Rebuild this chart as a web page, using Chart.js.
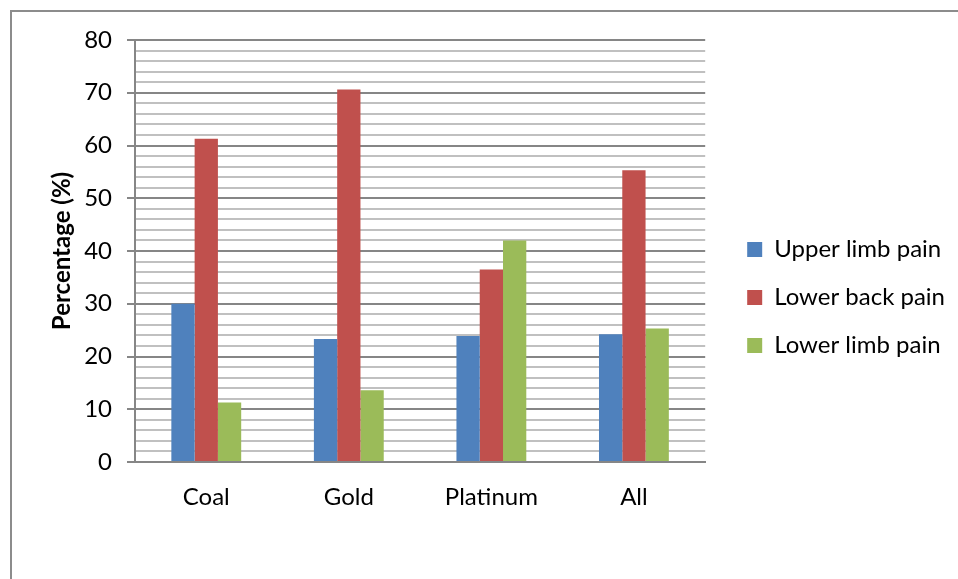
<!DOCTYPE html>
<html>
<head>
<meta charset="utf-8">
<script src="https://cdn.jsdelivr.net/npm/chart.js@4.4.1/dist/chart.umd.min.js"></script>
<style>
    html, body {
        margin: 0;
        padding: 0;
        background: #ffffff;
        overflow: hidden;
    }

    .frame {
        position: absolute;
        left: 10px;
        top: 10px;
        width: 1000px;
        height: 700px;
        border: 2px solid #8c8c8c;
        box-sizing: border-box;
    }

    .chart-box {
        position: absolute;
        left: 0;
        top: 0;
        width: 958px;
        height: 579px;
    }
</style>
</head>
<body>
<div class="frame"></div>
<div class="chart-box">
    <canvas id="painChart"></canvas>
</div>

<script>
// DATA

const categories = ["Coal", "Gold", "Platinum", "All"];

const upperLimbPain = [30.0, 23.3, 23.9, 24.2];
const lowerBackPain = [61.3, 70.6, 36.5, 55.3];
const lowerLimbPain = [11.3, 13.6, 42.0, 25.3];

const yTicks = [0, 10, 20, 30, 40, 50, 60, 70, 80];

// ================================
// BAR CHART
// ================================

const fontFamily = "Lato, 'Open Sans', sans-serif";

const isMajor = (value) => yTicks.includes(value);

// push the legend a bit away from the plot
const legendGap = {
    id: "legendGap",
    afterLayout(chart) {
        chart.legend.left += 18;
        chart.legend.right += 18;
    },
};

const ctx = document.getElementById("painChart");

new Chart(ctx, {
    type: "bar",

    data: {
        labels: categories,

        datasets: [
            {
                label: "Upper limb pain",
                data: upperLimbPain,
                backgroundColor: "#4f81bd",
            },
            {
                label: "Lower back pain",
                data: lowerBackPain,
                backgroundColor: "#c0504d",
            },
            {
                label: "Lower limb pain",
                data: lowerLimbPain,
                backgroundColor: "#9bbb59",
            },
        ],
    },

    plugins: [legendGap],

    options: {
        responsive: true,
        maintainAspectRatio: false,
        animation: false,

        datasets: {
            bar: {
                categoryPercentage: 0.49,
                barPercentage: 1,
            },
        },

        layout: {
            padding: {
                left: 0,
                top: 40,
                right: 21,
                bottom: 24,
            },
        },

        plugins: {
            legend: {
                position: "right",
                labels: {
                    boxWidth: 15,
                    boxHeight: 15,
                    padding: 24,
                    color: "#000000",
                    font: {
                        family: fontFamily,
                        size: 24,
                    },
                },
            },
            tooltip: {
                enabled: false,
            },
        },

        scales: {
            x: {
                grid: {
                    display: false,
                },
                border: {
                    color: "#868686",
                    width: 2,
                },
                ticks: {
                    padding: 13,
                    color: "#000000",
                    font: {
                        family: fontFamily,
                        size: 24,
                    },
                },
                afterFit: (scale) => {
                    scale.height = 93;
                },
            },

            y: {
                min: 0,
                max: 80,
                grid: {
                    color: (c) => (isMajor(c.tick.value) ? "#868686" : "#c0c0c0"),
                    lineWidth: 2,
                    tickLength: 8,
                    tickColor: (c) => (isMajor(c.tick.value) ? "#868686" : "rgba(0,0,0,0)"),
                },
                border: {
                    color: "#868686",
                    width: 2,
                },
                ticks: {
                    stepSize: 2,
                    padding: 15,
                    autoSkip: false,
                    color: "#000000",
                    font: {
                        family: fontFamily,
                        size: 24,
                    },
                    callback: function (value) {
                        return isMajor(value) ? value : "";
                    },
                },
                title: {
                    display: true,
                    text: "Percentage (%)",
                    color: "#000000",
                    padding: { top: 48, bottom: 0 },
                    font: {
                        family: fontFamily,
                        size: 24,
                        weight: "bold",
                    },
                },
                afterFit: (scale) => {
                    scale.width = 135;
                },
            },
        },
    },
});
</script>
</body>
</html>
